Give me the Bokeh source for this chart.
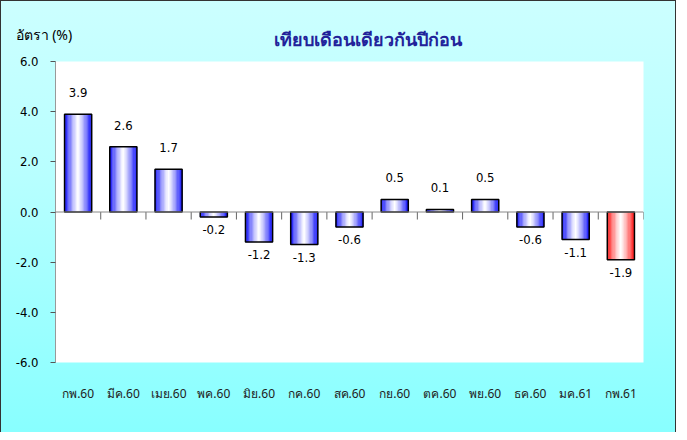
from bokeh.plotting import figure
from bokeh.models import FactorRange, Span, PrintfTickFormatter, Title
from bokeh.transform import dodge
from bokeh.core.properties import value
from bokeh.embed import file_html
from bokeh.resources import INLINE

categories = ["กพ.60", "มีค.60", "เมย.60", "พค.60", "มิย.60", "กค.60", "สค.60",
              "กย.60", "ตค.60", "พย.60", "ธค.60", "มค.61", "กพ.61"]
values = [3.9, 2.6, 1.7, -0.2, -1.2, -1.3, -0.6, 0.5, 0.1, 0.5, -0.6, -1.1, -1.9]
highlight = [False] * 12 + [True]
y_ticks = [-6, -4, -2, 0, 2, 4, 6]
title_text = "เทียบเดือนเดียวกันปีก่อน"
y_title = "อัตรา (%)"

FONT = "DejaVu Sans Condensed"

p = figure(x_range=FactorRange(*categories), y_range=(-6, 6), title=None,
           width=676, height=432, output_backend="svg", toolbar_location=None,
           min_border_left=54, min_border_right=34, min_border_top=60, min_border_bottom=71)
p.border_fill_color = None
p.background_fill_color = "white"
p.outline_line_color = None
p.styles = {"background": "linear-gradient(#ccffff 0%, #b8ffff 40%, #88ffff 100%)",
            "border-left": "1px solid #333333", "border-right": "1px solid #333333",
            "border-top": "1px solid #333333", "box-sizing": "border-box"}
p.grid.visible = False

main_title = Title(text=title_text, align="left", offset=218, standoff=22,
                   text_font="Noto Sans", text_font_size="18px", text_color="#22229a",
                   text_font_style="bold")
p.add_layout(main_title, "above")
ylab = Title(text=y_title, align="left", offset=-40, standoff=-60,
             text_font="Noto Sans", text_font_size="14px", text_color="black",
             text_font_style="normal")
p.add_layout(ylab, "above")

# y axis
p.yaxis.ticker = y_ticks
p.yaxis.formatter = PrintfTickFormatter(format="%.1f")
p.yaxis.axis_line_color = "#999999"
p.yaxis.major_tick_line_color = "#555555"
p.yaxis.major_tick_out = 5
p.yaxis.major_tick_in = 0
p.yaxis.minor_tick_line_color = None
p.yaxis.major_label_text_font = FONT
p.yaxis.major_label_text_font_size = "13px"
p.yaxis.major_label_text_color = "black"
p.yaxis.major_label_standoff = 12

# x axis
p.xaxis.axis_line_color = None
p.xaxis.major_tick_line_color = None
p.xaxis.minor_tick_line_color = None
p.xaxis.major_label_text_font = "Noto Sans"
p.xaxis.major_label_text_font_size = "12px"
p.xaxis.major_label_text_color = "#222222"
p.xaxis.major_label_standoff = 16

# zero line
p.add_layout(Span(location=0, dimension="width", line_color="#888888", line_width=1))

# gradient bars
N = 21
bw = 0.6
sw = bw / N
blue = (25, 25, 250)
red = (255, 30, 30)
for k in range(N):
    t = (k + 0.5) / N * 2 - 1
    w = min(1.0, abs(t) ** 1.2 * 1.08)
    cols = []
    for h in highlight:
        base = red if h else blue
        c = tuple(int(round(255 * (1 - w) + base[i] * w)) for i in range(3))
        cols.append("#%02x%02x%02x" % c)
    off = -bw / 2 + (k + 0.5) * sw
    p.vbar(x=dodge("x", off, range=p.x_range), top="top", bottom=0, width=sw * 1.05,
           fill_color="c", line_color="c", line_width=0.3,
           source=dict(x=categories, top=values, c=cols))

p.vbar(x=categories, top=values, bottom=0, width=bw, fill_color=None,
       line_color="black", line_width=1.5)

# x ticks at category boundaries on the zero line
p.segment(x0=dodge("x", 0.5, range=p.x_range), x1=dodge("x", 0.5, range=p.x_range),
          y0=0, y1=-0.3, line_color="#666666", line_width=1,
          source=dict(x=categories))

# value labels
pos = [c for c, v in zip(categories, values) if v >= 0]
posv = [v for v in values if v >= 0]
neg = [c for c, v in zip(categories, values) if v < 0]
negv = [v for v in values if v < 0]
p.text(x=pos, y=posv, text=["%.1f" % v for v in posv], text_align="center",
       text_baseline="bottom", y_offset=-17, text_font=value(FONT),
       text_font_size="13px", text_color="black")
p.text(x=neg, y=negv, text=["%.1f" % v for v in negv], text_align="center",
       text_baseline="top", y_offset=8, text_font=value(FONT),
       text_font_size="13px", text_color="black")

open("out.html", "w").write(file_html(p, INLINE))
